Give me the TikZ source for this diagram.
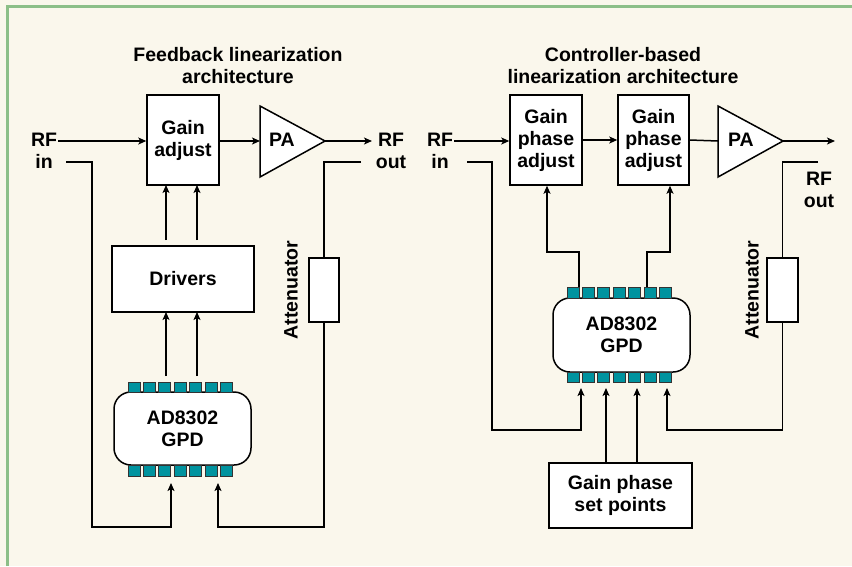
\documentclass[tikz,border=0pt]{standalone}
\usepackage{fontspec}
\setmainfont{Liberation Sans}
\usetikzlibrary{arrows.meta}
\definecolor{cream}{HTML}{FAF7EC}
\definecolor{frame}{HTML}{8CBF88}
\definecolor{pin}{HTML}{00939F}
\tikzset{
  lbl/.style={font=\fontsize{19.5}{22}\selectfont\bfseries, align=center, inner sep=0pt},
  box/.style={draw, line width=1.5pt, fill=white, lbl},
  gpd/.style={draw, line width=1.5pt, fill=white, rounded corners=17pt, lbl},
  wire/.style={line width=1.5pt},
  arr/.style={wire, -{Stealth[length=8pt,width=7pt,inset=2pt]}},
  pinbox/.style={draw=black!80, line width=0.8pt, fill=pin},
}
\begin{document}
\begin{tikzpicture}[x=1pt,y=-1pt]
\useasboundingbox (0,0) rectangle (852,566);
\fill[cream] (0,0) rectangle (852,566);
\draw[frame, line width=3pt] (7,566) -- (7,6) -- (852,6);

% ---------- left diagram ----------
\node[lbl] (title1) at (238,66) {Feedback linearization\\architecture};
\node[lbl] (rfin1) at (44,151) {RF\\in};
\node[lbl] (rfout1) at (391,151) {RF\\out};
\node[box, minimum width=72pt, minimum height=90pt] (ga) at (183,140) {Gain\\adjust};
\draw[wire, fill=white] (260,106) -- (260,177) -- (325,141) -- cycle;
\coordinate (pa1in) at (260,141);
\coordinate (pa1out) at (325,141);
\node[lbl] (pa1) at (282,140) {PA};
\node[box, minimum width=142pt, minimum height=66pt] (drv) at (183,279) {Drivers};
\node[box, minimum width=30pt, minimum height=64pt] (att1) at (324,290) {};
\node[lbl, rotate=90] (att1l) at (291,290) {Attenuator};
\node[gpd, minimum width=137pt, minimum height=73pt] (gpd1) at (182.5,428.5) {AD8302\\GPD};
\foreach \i in {0,...,6} {
  \draw[pinbox] (128+15.4*\i,382) rectangle ++(12,10);
  \draw[pinbox] (128+15.4*\i,465) rectangle ++(12,11);
}
\coordinate (rfin1a) at (58,141);
\coordinate (rfout1a) at (372,141);
\draw[arr] (rfin1a) -- (ga.west |- rfin1a);
\draw[arr] (ga.east |- pa1in) -- (pa1in);
\draw[arr] (pa1out) -- (rfout1a);
\coordinate (in1) at (66,162);
\coordinate (in1b) at (92,162);
\coordinate (in1c) at (92,527);
\coordinate (g1a) at (171,527);
\coordinate (g1b) at (171,483);
\draw[arr] (in1) -- (in1b) -- (in1c) -- (g1a) -- (g1b);
\coordinate (out1) at (361,162);
\coordinate (out1b) at (324,162);
\draw[wire] (out1) -- (out1b) -- (att1.north);
\coordinate (g1c) at (218,483);
\coordinate (g1d) at (218,527);
\coordinate (g1e) at (324,527);
\draw[arr] (att1.south) -- (g1e) -- (g1d) -- (g1c);
\foreach \x in {166,197} {
  \draw[arr] (\x,240) -- (\x,185);
  \draw[arr] (\x,376) -- (\x,312);
}

% ---------- right diagram ----------
\node[lbl] (title2) at (623,66) {Controller-based\\linearization architecture};
\node[lbl] (rfin2) at (440,151) {RF\\in};
\node[lbl] (rfout2) at (819,190) {RF\\out};
\node[box, minimum width=72pt, minimum height=90pt] (b1) at (546,140) {Gain\\phase\\adjust};
\node[box, minimum width=71pt, minimum height=90pt] (b2) at (653.5,140) {Gain\\phase\\adjust};
\draw[wire, fill=white] (718,106) -- (718,177) -- (783,141) -- cycle;
\coordinate (pa2in) at (718,141);
\coordinate (pa2out) at (783,141);
\node[lbl] (pa2) at (741,140) {PA};
\node[box, minimum width=31pt, minimum height=64pt] (att2) at (782.5,290) {};
\node[lbl, rotate=90] (att2l) at (752,290) {Attenuator};
\node[gpd, minimum width=137pt, minimum height=74pt] (gpd2) at (621.5,335) {AD8302\\GPD};
\foreach \i in {0,...,6} {
  \draw[pinbox] (567+15.4*\i,287) rectangle ++(12,11);
  \draw[pinbox] (567+15.4*\i,372) rectangle ++(12,10);
}
\node[box, minimum width=143pt, minimum height=65pt] (sp) at (620.5,495.5) {Gain phase\\set points};
\coordinate (rfin2a) at (454,141);
\coordinate (rfout2a) at (835,141);
\draw[arr] (rfin2a) -- (b1.west |- rfin2a);
\draw[arr] (b1.east) -- (b2.west);
\draw[wire] (b2.east) -- (pa2in);
\draw[arr] (pa2out) -- (rfout2a);
\coordinate (in2) at (467,162);
\coordinate (in2b) at (492,162);
\coordinate (in2c) at (492,430);
\coordinate (g2a) at (581,430);
\coordinate (g2b) at (581,388);
\draw[arr] (in2) -- (in2b) -- (in2c) -- (g2a) -- (g2b);
\coordinate (out2) at (818,162);
\coordinate (out2b) at (782.5,162);
\draw[wire] (out2) -- (out2b) -- (att2.north);
\coordinate (g2c) at (667,388);
\coordinate (g2d) at (667,430);
\coordinate (g2e) at (782.5,430);
\draw[arr] (att2.south) -- (g2e) -- (g2d) -- (g2c);
\coordinate (t1a) at (579,287);
\coordinate (t1b) at (579,252);
\coordinate (t1c) at (547,252);
\draw[arr] (t1a) -- (t1b) -- (t1c) -- (b1.south -| t1c);
\coordinate (t2a) at (647,287);
\coordinate (t2b) at (647,252);
\coordinate (t2c) at (670,252);
\draw[arr] (t2a) -- (t2b) -- (t2c) -- (b2.south -| t2c);
\foreach \x in {606,637} {
  \draw[arr] (sp.north -| \x,0) -- (\x,388);
}
\end{tikzpicture}
\end{document}
